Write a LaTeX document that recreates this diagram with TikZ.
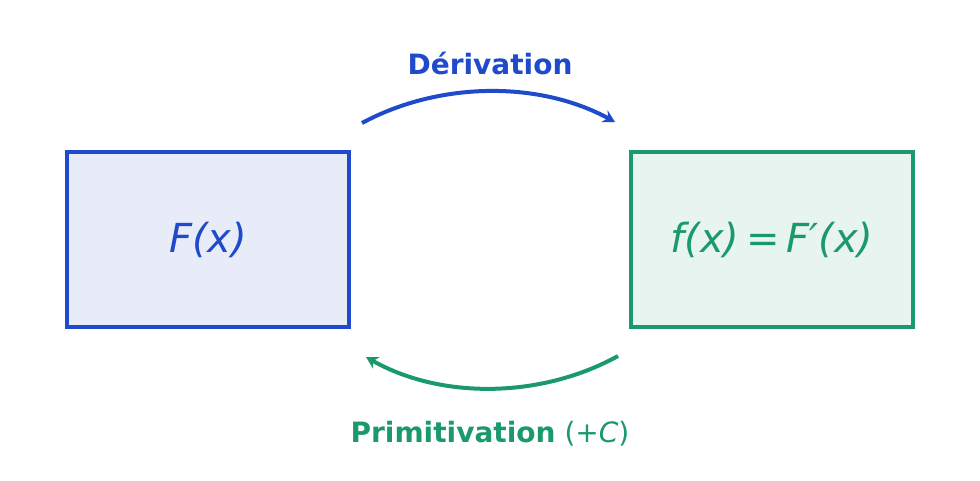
\documentclass[tikz,border=0pt]{standalone}
\usepackage{fontspec}
\setmainfont{DejaVu Sans}
\usetikzlibrary{arrows.meta}
\definecolor{derblue}{HTML}{1F4ACC}
\definecolor{primgreen}{HTML}{1A9A6A}
\definecolor{bluefill}{HTML}{E8ECF8}
\definecolor{greenfill}{HTML}{E8F4EF}
\begin{document}
\begin{tikzpicture}[x=0.75pt, y=0.75pt,
    fbox/.style={draw, line width=3pt, minimum width=282*0.75pt, minimum height=175*0.75pt, inner sep=0pt},
    flow/.style={-{Stealth[length=9pt, width=10pt, inset=3pt]}, line width=3pt}]
            \useasboundingbox (0,0) rectangle (980,480);

            % Boxes
            \node[fbox, draw=derblue, fill=bluefill, text=derblue, font=\fontsize{30}{36}\selectfont\itshape] (F) at (208,240.5) {F(x)};
            \node[fbox, draw=primgreen, fill=greenfill, text=primgreen, font=\fontsize{30}{36}\selectfont\itshape] (f) at (772,240.5) {f(x)\,=\,F′(x)};

            % Arrow ends
            \coordinate (d1) at (362,357);
            \coordinate (d2) at (615,358);
            \coordinate (p1) at (618,124);
            \coordinate (p2) at (366,123);

            % Arrows
            \draw[flow, derblue] (d1) .. controls (440,399) and (540,399) .. (d2);
            \draw[flow, primgreen] (p1) .. controls (540,81) and (440,81) .. (p2);

            % Labels
            \node[text=derblue, font=\fontsize{21}{25}\selectfont\bfseries] (dlab) at (490,417) {Dérivation};
            \node[text=primgreen, font=\fontsize{21}{25}\selectfont] (plab) at (490,46) {\textbf{Primitivation} (+\textit{C})};
        \end{tikzpicture}
\end{document}
